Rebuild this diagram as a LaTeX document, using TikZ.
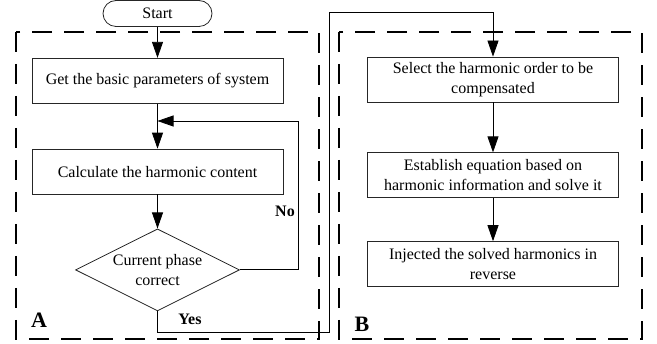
\documentclass[tikz,border=0pt]{standalone}
\usepackage{fontspec}
\setmainfont{Liberation Serif}
\usetikzlibrary{arrows.meta, positioning, shapes.geometric}
\tikzset{
  stepbox/.style={
    rectangle,
    draw=black!85,
    line width=0.8pt,
    align=center,
    minimum width=251pt,
    minimum height=45pt,
    inner sep=2pt,
    font=\fontsize{16}{20}\selectfont
  },
  arrow/.style={
    line width=0.8pt,
    -{Triangle[length=16pt,width=11pt]}
  },
  frame/.style={
    line width=2.6pt,
    dash pattern=on 20pt off 12pt
  }
}
\begin{document}
\begin{tikzpicture}[x=1pt, y=-1pt,
  terminal/.style={rectangle, draw=black!85, line width=0.8pt, rounded corners=13pt, minimum width=109pt, minimum height=26pt, inner sep=0pt, font=\fontsize{16}{20}\selectfont},
  decision/.style={diamond, draw=black!85, line width=0.8pt, aspect=2, minimum width=164pt, minimum height=82pt, inner sep=0pt, align=center, font=\fontsize{16}{20}\selectfont},
  tag/.style={font=\fontsize{16}{20}\selectfont\bfseries},
  part/.style={font=\fontsize{22}{24}\selectfont\bfseries}
]
  \useasboundingbox (0,0) rectangle (657,344);

  % Dashed frames
  \draw[frame] (16,32) rectangle (319,339);
  \draw[frame] (339,32) rectangle (642,339);

  % Part A
  \node[terminal] (start) at (157.5,13.5) {Start};
  \node[stepbox, below=31pt of start] (params) {Get the basic parameters of system};
  \node[stepbox, below=45pt of params] (content) {Calculate the harmonic content};
  \node[decision, below=34pt of content] (phase) {Current phase\\correct};

  % Part B
  \node[stepbox] (order) at (493,79.5) {Select the harmonic order to be\\compensated};
  \node[stepbox, below=50pt of order] (equation) {Establish equation based on\\harmonic information and solve it};
  \node[stepbox, below=43pt of equation] (inject) {Injected the solved harmonics in\\reverse};

  % Turning points
  \coordinate (noturn) at (298,121);
  \coordinate (merge) at (157.5,121);
  \coordinate (yesbot) at (329,332);
  \coordinate (yestop) at (329,12);

  % Arrows
  \draw[arrow] (start) -- (params);
  \draw[arrow] (params) -- (content);
  \draw[arrow] (content) -- (phase);
  \draw[arrow] (phase.east) -| (noturn) -- (merge);
  \draw[arrow] (phase.south) |- (yesbot) -- (yestop) -| (order.north);
  \draw[arrow] (order) -- (equation);
  \draw[arrow] (equation) -- (inject);

  % Labels
  \node[tag] (no) at (285,211) {No};
  \node[tag] (yes) at (190,319) {Yes};
  \node[part] (parta) at (39,320) {A};
  \node[part] (partb) at (362,324) {B};
\end{tikzpicture}
\end{document}
